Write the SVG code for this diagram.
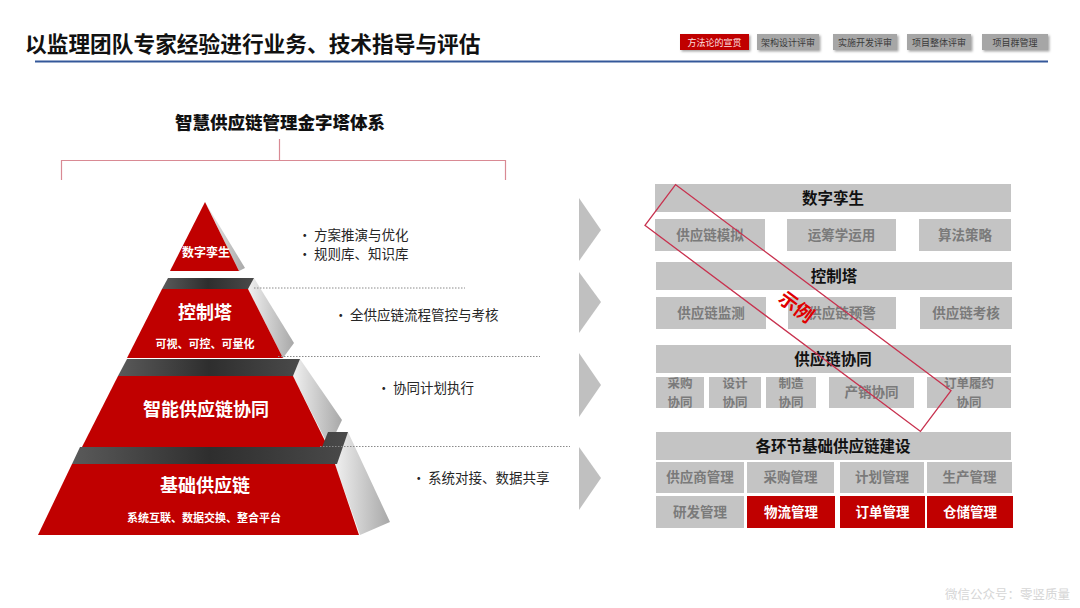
<svg xmlns="http://www.w3.org/2000/svg" width="1080" height="608" viewBox="0 0 1080 608">
<defs>
<linearGradient id="band" x1="0" y1="0" x2="1" y2="0"><stop offset="0" stop-color="#5a5a5a"/><stop offset="0.5" stop-color="#2e2e2e"/><stop offset="1" stop-color="#4a4a4a"/></linearGradient>
<linearGradient id="side" x1="0" y1="0" x2="1" y2="0"><stop offset="0" stop-color="#f0f0f0"/><stop offset="1" stop-color="#a8a8a8"/></linearGradient>
<filter id="sh" x="-10%" y="-10%" width="130%" height="140%"><feDropShadow dx="1.5" dy="1.5" stdDeviation="1" flood-color="#000" flood-opacity="0.35"/></filter>
</defs>
<style>
text{font-family:"Noto Sans CJK SC","Liberation Sans",sans-serif;}
.red{fill:#c00000;}
.wt{fill:#fff;font-weight:bold;text-anchor:middle;}
.bul{fill:#262626;font-size:13.5px;}
.gb{fill:#c4c4c4;}
.hd{fill:#111;font-size:15.5px;font-weight:bold;text-anchor:middle;}
.st{fill:#7a7a7a;font-size:13.5px;font-weight:bold;text-anchor:middle;}
.st2{fill:#7a7a7a;font-size:12.5px;font-weight:bold;text-anchor:middle;}
.rb{fill:#c00000;}
.rt{fill:#fff;font-size:13.5px;font-weight:bold;text-anchor:middle;}
.tab{fill:#a6a6a6;}
.tt{fill:#3a3a3a;font-size:9px;text-anchor:middle;}
.dot{stroke:#8a8a8a;stroke-width:1;stroke-dasharray:1.5 1.5;fill:none;}
.chev{fill:#c0c0c0;}
</style>
<rect width="1080" height="608" fill="#fff"/>

<g id="header">
<text x="25" y="52" font-size="21.7" font-weight="bold" fill="#111">以监理团队专家经验进行业务、技术指导与评估</text>
<line x1="35" y1="61.5" x2="1048" y2="61.5" stroke="#34589a" stroke-width="2"/>
</g>

<g id="tabs" filter="url(#sh)">
<rect x="680" y="34" width="69" height="16" fill="#c00000"/>
<rect class="tab" x="757" y="34" width="62" height="16"/>
<rect class="tab" x="833" y="34" width="64" height="16"/>
<rect class="tab" x="907" y="34" width="64" height="16"/>
<rect class="tab" x="982" y="34" width="66" height="16"/>
</g>
<g id="tab-labels">
<text class="tt" x="714.5" y="45.5" style="fill:#ffe0e0">方法论的宣贯</text>
<text class="tt" x="788" y="45.5">架构设计评审</text>
<text class="tt" x="865" y="45.5">实施开发评审</text>
<text class="tt" x="939" y="45.5">项目整体评审</text>
<text class="tt" x="1015" y="45.5">项目群管理</text>
</g>

<g id="pyramid-title">
<text x="280" y="129" font-size="17.5" font-weight="900" fill="#111" text-anchor="middle">智慧供应链管理金字塔体系</text>
<path d="M279.5 139 V160.5 M61.5 180 V160.5 H505.5 V180" stroke="#d98a94" stroke-width="1.2" fill="none"/>
</g>

<g id="tier-twin">
<polygon points="205,202 245,268 239,271" fill="url(#side)"/>
<polygon class="red" points="205,202 239,271 170,271"/>
<text class="wt" x="206" y="257" font-size="12">数字孪生</text>
</g>

<g id="tier-control">
<polygon points="254,278 294,343 283,358 248,289" fill="url(#side)"/>
<polygon points="168,278 254,278 248,289 162,289" fill="url(#band)"/>
<polygon class="red" points="162,289 248,289 283,358 127,358"/>
<text class="wt" x="205" y="319" font-size="18">控制塔</text>
<text class="wt" x="205" y="348" font-size="11">可视、可控、可量化</text>
</g>

<g id="tier-collab">
<polygon points="300,359 342,420 329,447 293,376" fill="url(#side)"/>
<polygon points="127,359 300,359 293,376 118,376" fill="url(#band)"/>
<polygon class="red" points="118,376 293,376 328,447 82,447"/>
<text class="wt" x="206" y="416" font-size="18">智能供应链协同</text>
</g>

<g id="tier-base">
<polygon points="348,432 390,522 360,535 335,464" fill="url(#side)"/>
<polygon points="80,447 322,447 328,432 348,432 337,464 72,464" fill="url(#band)"/>
<polygon class="red" points="72,464 335,464 359,535 38,535"/>
<text class="wt" x="205" y="492" font-size="18">基础供应链</text>
<text class="wt" x="204" y="522" font-size="11">系统互联、数据交换、整合平台</text>
</g>

<g id="bullets">
<text class="bul" x="298" y="240">•</text><text class="bul" x="314" y="240">方案推演与优化</text>
<text class="bul" x="298" y="259">•</text><text class="bul" x="314" y="259">规则库、知识库</text>
<text class="bul" x="334" y="320">•</text><text class="bul" x="350" y="320">全供应链流程管控与考核</text>
<text class="bul" x="377" y="393">•</text><text class="bul" x="393" y="393">协同计划执行</text>
<text class="bul" x="412" y="483">•</text><text class="bul" x="428" y="483">系统对接、数据共享</text>
</g>

<g id="connectors">
<line class="dot" x1="254" y1="288" x2="465" y2="288"/>
<line class="dot" x1="278" y1="356.5" x2="540" y2="356.5"/>
<line class="dot" x1="320" y1="446.5" x2="570" y2="446.5"/>
<polygon class="chev" points="579,198 601,230 579,261"/>
<polygon class="chev" points="579,272 601,302 579,333"/>
<polygon class="chev" points="579,353 601,385 579,417"/>
<polygon class="chev" points="579,447 601,478 579,510"/>
</g>

<g id="layer-twin">
<rect class="gb" x="655" y="184" width="356" height="28"/>
<text class="hd" x="833" y="204">数字孪生</text>
<rect class="gb" x="655" y="219" width="110" height="32"/><text class="st" x="710" y="240">供应链模拟</text>
<rect class="gb" x="787" y="219" width="109" height="32"/><text class="st" x="841.5" y="240">运筹学运用</text>
<rect class="gb" x="919" y="219" width="92" height="32"/><text class="st" x="965" y="240">算法策略</text>
</g>

<g id="layer-control">
<rect class="gb" x="656" y="262" width="356" height="28"/>
<text class="hd" x="834" y="282">控制塔</text>
<rect class="gb" x="656" y="297" width="110" height="32"/><text class="st" x="711" y="318">供应链监测</text>
<rect class="gb" x="788" y="297" width="108" height="32"/><text class="st" x="842" y="318">供应链预警</text>
<rect class="gb" x="920" y="297" width="92" height="32"/><text class="st" x="966" y="318">供应链考核</text>
</g>

<g id="layer-collab">
<rect class="gb" x="656" y="345" width="355" height="28"/>
<text class="hd" x="833" y="365">供应链协同</text>
<rect class="gb" x="656" y="377" width="48" height="31"/><text class="st2" x="680" y="388">采购</text><text class="st2" x="680" y="406.5">协同</text>
<rect class="gb" x="709" y="377" width="52" height="31"/><text class="st2" x="735" y="388">设计</text><text class="st2" x="735" y="406.5">协同</text>
<rect class="gb" x="766" y="377" width="50" height="31"/><text class="st2" x="791" y="388">制造</text><text class="st2" x="791" y="406.5">协同</text>
<rect class="gb" x="829" y="377" width="85" height="31"/><text class="st" x="871.5" y="397">产销协同</text>
<rect class="gb" x="927" y="377" width="84" height="31"/><text class="st2" x="969" y="388">订单履约</text><text class="st2" x="969" y="406.5">协同</text>
</g>

<g id="layer-base">
<rect class="gb" x="656" y="432" width="355" height="28"/>
<text class="hd" x="833" y="452">各环节基础供应链建设</text>
<rect class="gb" x="656" y="462" width="88" height="31"/><text class="st" x="700" y="482">供应商管理</text>
<rect class="gb" x="747" y="462" width="87" height="31"/><text class="st" x="790.5" y="482">采购管理</text>
<rect class="gb" x="840" y="462" width="84" height="31"/><text class="st" x="882" y="482">计划管理</text>
<rect class="gb" x="927" y="462" width="85" height="31"/><text class="st" x="969.5" y="482">生产管理</text>
<rect class="gb" x="656" y="496" width="88" height="32"/><text class="st" x="700" y="517">研发管理</text>
<rect class="rb" x="747" y="496" width="88" height="32"/><text class="rt" x="791" y="517">物流管理</text>
<rect class="rb" x="840" y="496" width="85" height="32"/><text class="rt" x="882.5" y="517">订单管理</text>
<rect class="rb" x="927" y="496" width="86" height="32"/><text class="rt" x="970" y="517">仓储管理</text>
</g>

<g id="stamp" transform="translate(798,308) rotate(36.8)">
<rect x="-172" y="-25.5" width="344" height="51" fill="none" stroke="#c8324f" stroke-width="1.3"/>
<text x="-2" y="7" font-size="19" font-weight="bold" fill="#e00000" text-anchor="middle">示例</text>
</g>

<text x="1070" y="599" font-size="12.5" fill="#d6d6d6" text-anchor="end">微信公众号：零竖质量</text>
</svg>
